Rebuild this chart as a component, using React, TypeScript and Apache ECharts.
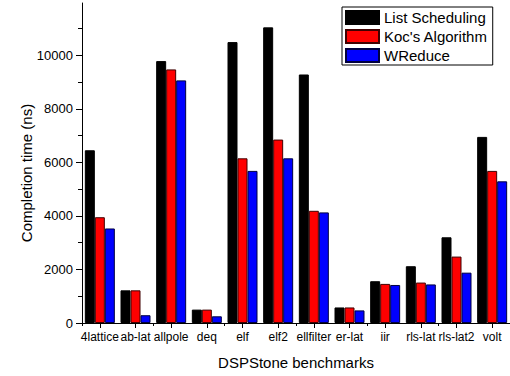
import React, { useEffect, useRef } from "react";
import * as echarts from "echarts";

const categories = ["4lattice", "ab-lat", "allpole", "deq", "elf", "elf2", "ellfilter", "er-lat", "iir", "rls-lat", "rls-lat2", "volt"];
const listScheduling = [6450, 1220, 9780, 500, 10490, 11040, 9280, 580, 1560, 2120, 3200, 6950];
const kocAlgorithm = [3950, 1220, 9470, 500, 6150, 6850, 4190, 580, 1460, 1510, 2480, 5680];
const wReduce = [3530, 290, 9060, 250, 5680, 6150, 4130, 470, 1420, 1440, 1880, 5290];
const yTicks = [0, 2000, 4000, 6000, 8000, 10000];
const yTitle = "Completion time (ns)";

const FONT = "Liberation Sans, Arial, sans-serif";

export default function App() {
  const ref = useRef<HTMLDivElement>(null);
  useEffect(() => {
    if (!ref.current) return;
    const chart = echarts.init(ref.current, null, { renderer: "svg" });
    const mk = (name: string, data: number[], color: string, border: string) => ({
      name,
      type: "bar",
      data,
      barWidth: 10,
      barGap: "0%",
      xAxisIndex: 0,
      itemStyle: { color, borderColor: border, borderWidth: 1 },
    });
    chart.setOption({
      animation: false,
      backgroundColor: "#fff",
      textStyle: { fontFamily: FONT },
      grid: { left: 82, right: -4, top: 3, bottom: 53, containLabel: false },
      graphic: [
        {
          type: "text",
          x: 26,
          y: 173,
          rotation: Math.PI / 2,
          style: {
            text: yTitle,
            fontFamily: FONT,
            fontSize: 15,
            fill: "#000",
            align: "center",
            verticalAlign: "middle",
          },
        },
      ],
      legend: {
        left: 342,
        top: 7,
        orient: "vertical",
        icon: "rect",
        itemWidth: 33,
        itemHeight: 13,
        itemGap: 4,
        padding: [3, 5, 2, 3],
        borderColor: "#000",
        borderWidth: 1,
        backgroundColor: "#fff",
        textStyle: { fontFamily: FONT, fontSize: 15, color: "#000", padding: [0, 0, 0, 0] },
        data: ["List Scheduling", "Koc's Algorithm", "WReduce"],
      },
      xAxis: [
        {
          type: "category",
          data: categories,
          name: "DSPStone benchmarks",
          nameLocation: "middle",
          nameGap: 32,
          nameTextStyle: { fontFamily: FONT, fontSize: 15, color: "#000" },
          axisLine: { show: true, lineStyle: { color: "#000", width: 1 } },
          axisTick: { show: true, alignWithLabel: true, length: 5, lineStyle: { color: "#000" } },
          axisLabel: { fontFamily: FONT, fontSize: 12, color: "#000", margin: 8, interval: 0 },
          splitLine: { show: false },
        },
        {
          type: "category",
          data: categories,
          position: "bottom",
          axisLine: { show: true, lineStyle: { color: "#000", width: 1 } },
          axisTick: { show: true, alignWithLabel: false, length: 3, lineStyle: { color: "#000" } },
          axisLabel: { show: false },
          splitLine: { show: false },
        },
      ],
      yAxis: {
        type: "value",
        min: 0,
        max: 11950,
        interval: 2000,
        axisLine: { show: true, lineStyle: { color: "#000", width: 1 } },
        axisTick: { show: true, length: 6, customValues: yTicks, lineStyle: { color: "#000" } },
        minorTick: { show: true, splitNumber: 2, length: 4, lineStyle: { color: "#000" } },
        axisLabel: {
          fontFamily: FONT,
          fontSize: 13,
          color: "#000",
          margin: 9,
          customValues: yTicks,
          formatter: (v: number) => String(v),
        },
        splitLine: { show: false },
      },
      series: [
        mk("List Scheduling", listScheduling, "#000000", "#000000"),
        mk("Koc's Algorithm", kocAlgorithm, "#ff0000", "#400000"),
        mk("WReduce", wReduce, "#0000ff", "#000040"),
      ],
    });
    return () => chart.dispose();
  }, []);
  return (
    <div
      ref={ref}
      style={{ position: "fixed", left: 0, top: 0, width: 510, height: 376 }}
    />
  );
}
